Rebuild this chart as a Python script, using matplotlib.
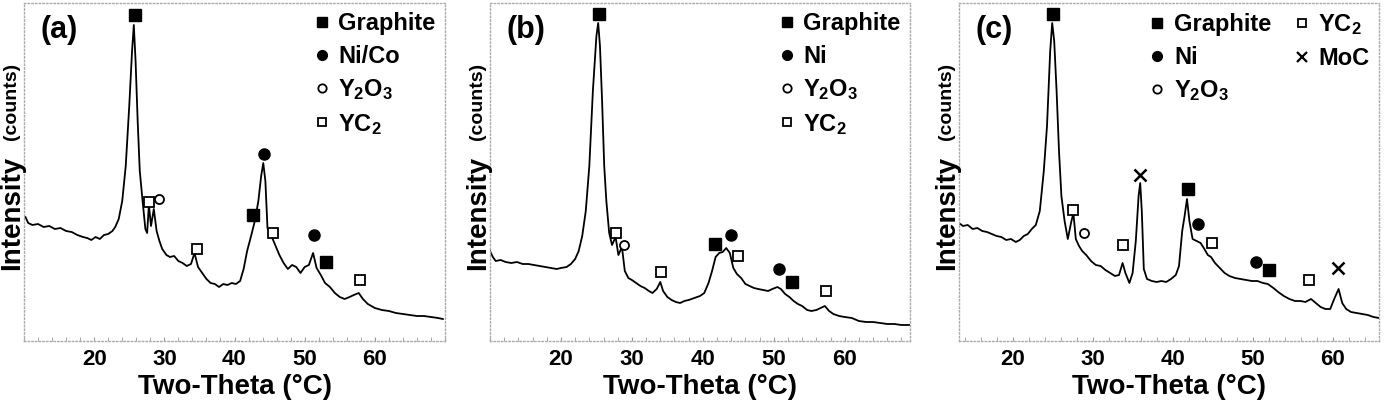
import matplotlib
matplotlib.use("Agg")
import matplotlib.pyplot as plt
from matplotlib.lines import Line2D
from matplotlib.ticker import MultipleLocator

plt.rcParams['font.family'] = ['Liberation Sans Narrow', 'Liberation Sans', 'DejaVu Sans']
plt.rcParams['font.weight'] = 'bold'
plt.rcParams['mathtext.default'] = 'regular'

# ---- data (two-theta, intensity in arbitrary counts) ----
theta_a = [10.2, 10.6, 11.2, 12.0, 12.8, 13.6, 14.4, 15.2, 16.0, 16.8, 17.6, 18.4, 19.0, 19.6,
           20.2, 20.8, 21.4, 22.0, 22.6, 23.0, 23.5, 24.0, 24.5, 25.0, 25.4, 25.65, 25.9, 26.2,
           26.5, 26.9, 27.3, 27.55, 27.8, 28.1, 28.5, 28.9, 29.3, 29.7, 30.3, 30.8, 31.4, 32.0,
           32.6, 33.2, 33.8, 34.3, 34.8, 35.4, 36.0, 36.6, 37.2, 37.8, 38.4, 39.0, 39.6, 40.2,
           40.8, 41.3, 41.8, 42.4, 42.9, 43.4, 43.8, 44.1, 44.4, 44.7, 45.2, 45.8, 46.4, 47.0,
           47.6, 48.2, 48.8, 49.4, 50.0, 50.6, 51.2, 51.7, 52.3, 52.9, 53.6, 54.3, 55.0, 55.7,
           56.4, 57.0, 57.7, 58.3, 59.0, 60.0, 61.0, 62.0, 63.0, 64.0, 65.0, 66.0, 67.0, 68.0,
           69.0, 69.7]
int_a = [124, 118, 116, 117, 114, 115, 112, 113, 110, 109, 106, 104, 103, 101,
         104, 102, 106, 107, 110, 114, 122, 140, 175, 235, 290, 316, 280, 220,
         170, 140, 112, 108, 136, 115, 132, 110, 100, 92, 86, 84, 85, 80,
         78, 75, 77, 88, 74, 68, 62, 58, 57, 54, 57, 56, 58, 57,
         60, 72, 90, 106, 120, 140, 165, 178, 160, 113, 106, 96, 86, 78,
         72, 76, 74, 68, 74, 76, 88, 73, 66, 58, 54, 48, 44, 42,
         44, 46, 48, 42, 37, 33, 31, 30, 28, 27, 26, 25, 25, 24,
         23, 22]

theta_b = [10.0, 10.4, 10.8, 11.5, 12.2, 13.0, 13.8, 14.6, 15.4, 16.2, 17.0, 17.8, 18.6, 19.4,
           20.0, 20.8, 21.4, 22.0, 22.5, 23.0, 23.5, 24.0, 24.5, 25.0, 25.25, 25.5, 25.8, 26.1,
           26.4, 26.8, 27.2, 27.7, 28.1, 28.6, 29.0, 29.5, 30.0, 30.6, 31.2, 31.8, 32.4, 32.9,
           33.5, 34.0, 34.4, 35.0, 35.6, 36.2, 36.8, 37.4, 38.0, 38.8, 39.6, 40.2, 40.8, 41.3,
           41.8, 42.3, 42.8, 43.3, 43.8, 44.3, 44.8, 45.4, 46.0, 46.6, 47.2, 47.8, 48.5, 49.2,
           49.8, 50.5, 51.0, 51.6, 52.2, 52.8, 53.4, 54.0, 54.7, 55.3, 56.0, 56.6, 57.2, 57.8,
           58.4, 59.2, 60.0, 61.0, 62.0, 63.0, 64.0, 65.0, 66.0, 67.0, 68.0, 69.2]
int_b = [90, 84, 80, 81, 79, 78, 79, 77, 77, 76, 75, 74, 73, 72,
         73, 74, 77, 82, 90, 105, 130, 175, 250, 305, 318, 295, 240, 175,
         140, 108, 96, 104, 86, 94, 70, 63, 61, 58, 55, 53, 50, 48,
         52, 59, 50, 44, 41, 39, 38, 40, 41, 43, 45, 48, 58, 70,
         84, 88, 89, 93, 88, 73, 67, 63, 57, 55, 53, 52, 51, 50,
         52, 54, 52, 47, 44, 40, 37, 35, 31, 30, 31, 33, 35, 30,
         27, 25, 24, 23, 20, 19, 19, 18, 17, 17, 16, 16]

theta_c = [13.3, 13.8, 14.4, 15.0, 15.6, 16.2, 16.8, 17.4, 18.0, 18.6, 19.2, 19.8, 20.4, 20.9,
           21.4, 21.9, 22.4, 22.9, 23.4, 23.9, 24.3, 24.7, 24.95, 25.2, 25.5, 25.8, 26.1, 26.5,
           26.9, 27.3, 27.6, 27.9, 28.3, 28.7, 29.2, 29.8, 30.4, 31.0, 31.6, 32.2, 32.8, 33.3,
           33.75, 34.1, 34.6, 35.0, 35.4, 35.75, 35.95, 36.15, 36.4, 36.8, 37.4, 38.0, 38.6, 39.2,
           39.8, 40.4, 40.8, 41.2, 41.5, 41.8, 42.1, 42.5, 43.0, 43.5, 43.9, 44.4, 44.8, 45.3,
           45.9, 46.5, 47.1, 47.8, 48.5, 49.2, 49.9, 50.6, 51.3, 51.9, 52.6, 53.2, 53.9, 54.6,
           55.3, 56.0, 56.6, 57.3, 57.9, 58.5, 59.1, 59.7, 60.2, 60.75, 61.2, 61.7, 62.3, 63.0,
           63.7, 64.4, 65.1, 65.8]
int_c = [118, 115, 116, 112, 113, 110, 109, 107, 105, 104, 101, 102, 99, 101,
         105, 107, 112, 116, 130, 170, 215, 290, 318, 300, 250, 190, 145, 120,
         102, 118, 128, 102, 95, 90, 86, 80, 76, 75, 71, 68, 65, 66,
         78, 68, 58, 68, 100, 145, 158, 130, 72, 62, 60, 59, 60, 59,
         62, 66, 75, 110, 125, 142, 120, 102, 100, 98, 93, 86, 84, 78,
         73, 68, 65, 63, 62, 61, 60, 60, 58, 57, 53, 49, 45, 42,
         40, 40, 39, 42, 38, 34, 32, 32, 42, 52, 38, 32, 29, 28,
         27, 26, 24, 23]

# peak markers (two-theta, intensity)
graphite_a = [(25.8, 326), (42.7, 126), (53.0, 79)]
nico_a = [(44.2, 187), (51.4, 106)]
y2o3_a = [(29.3, 142)]
yc2_a = [(27.8, 139), (34.6, 92), (45.5, 108), (57.9, 61)]

graphite_b = [(25.4, 327), (41.7, 97), (52.5, 59)]
ni_b = [(43.9, 106), (50.8, 72)]
y2o3_b = [(28.9, 96)]
yc2_b = [(27.7, 108), (34.1, 69), (44.9, 85), (57.3, 50)]

graphite_c = [(25.1, 327), (41.9, 152), (52.1, 71)]
ni_c = [(43.2, 117), (50.4, 79)]
y2o3_c = [(28.9, 108)]
yc2_c = [(27.6, 131), (33.75, 96), (44.9, 98), (57.1, 61)]
moc_c = [(35.96, 166), (60.7, 73)]

# marker styles per phase
styles = {
    'graphite': dict(marker='s', ms=8.5, mfc='black', mec='black'),
    'metal': dict(marker='o', ms=8, mfc='black', mec='black'),
    'y2o3': dict(marker='o', ms=6.5, mfc='white', mec='black', mew=1.3),
    'yc2': dict(marker='s', ms=6.5, mfc='white', mec='black', mew=1.3),
    'moc': dict(marker='x', ms=8, mfc='black', mec='black', mew=1.8),
}
leg_styles = {
    'graphite': dict(marker='s', ms=7, mfc='black', mec='black'),
    'metal': dict(marker='o', ms=7, mfc='black', mec='black'),
    'y2o3': dict(marker='o', ms=6, mfc='white', mec='black', mew=1.3),
    'yc2': dict(marker='s', ms=6, mfc='white', mec='black', mew=1.3),
    'moc': dict(marker='x', ms=7, mfc='black', mec='black', mew=1.6),
}


def draw_panel(ax, theta, inten, peaks, legend_items, letter, xlim, ncol=1):
    ax.plot(theta, inten, color='black', lw=1.3)
    for kind, pts in peaks:
        xs = [p[0] for p in pts]
        ys = [p[1] for p in pts]
        ax.plot(xs, ys, ls='none', clip_on=False, **styles[kind])
    ax.set_xlim(*xlim)
    ax.set_ylim(0, 338)
    ax.set_xticks([20, 30, 40, 50, 60])
    ax.xaxis.set_minor_locator(MultipleLocator(2))
    ax.set_yticks([])
    ax.tick_params(axis='x', which='both', direction='in', length=3, color='#999999',
                   labelsize=16, pad=6)
    for lab in ax.get_xticklabels():
        lab.set_fontweight('bold')
    for sp in ax.spines.values():
        sp.set_linestyle(':')
        sp.set_color('#aaaaaa')
        sp.set_linewidth(1.0)
    ax.set_xlabel('Two-Theta (°C)', fontsize=20, fontweight='bold', labelpad=3)
    ax.text(0.04, 0.92, letter, transform=ax.transAxes, fontsize=22,
            fontweight='bold', ha='left', va='center')
    ax.text(-0.028, 0.38, 'Intensity', transform=ax.transAxes, rotation=90,
            fontsize=20, fontweight='bold', ha='center', va='center')
    ax.text(-0.03, 0.71, '(counts)', transform=ax.transAxes, rotation=90,
            fontsize=14, fontweight='bold', ha='center', va='center')
    handles = [Line2D([], [], ls='none', **leg_styles[k]) for k, _ in legend_items]
    labels = [t for _, t in legend_items]
    ax.legend(handles, labels, loc='upper right', ncol=ncol, frameon=False,
              prop=dict(size=17, weight='bold'), handlelength=0.6, handletextpad=0.4,
              labelspacing=0.4, columnspacing=1.0, borderaxespad=0.0,
              bbox_to_anchor=(1.0, 1.0))


fig = plt.figure(figsize=(13.86, 4.13), dpi=100)
W, H = 1386.0, 413.0
bot = 1 - 341 / H
top = 1 - 3 / H
ax_a = fig.add_axes([24 / W, bot, (445 - 24) / W, top - bot])
ax_b = fig.add_axes([490 / W, bot, (910 - 490) / W, top - bot])
ax_c = fig.add_axes([959 / W, bot, (1379 - 959) / W, top - bot])

y2o3_lbl = 'Y$_2$O$_3$'
yc2_lbl = 'YC$_2$'

draw_panel(ax_a, theta_a, int_a,
           [('graphite', graphite_a), ('metal', nico_a), ('y2o3', y2o3_a), ('yc2', yc2_a)],
           [('graphite', 'Graphite'), ('metal', 'Ni/Co'), ('y2o3', y2o3_lbl), ('yc2', yc2_lbl)],
           '(a)', (10, 70))
draw_panel(ax_b, theta_b, int_b,
           [('graphite', graphite_b), ('metal', ni_b), ('y2o3', y2o3_b), ('yc2', yc2_b)],
           [('graphite', 'Graphite'), ('metal', 'Ni'), ('y2o3', y2o3_lbl), ('yc2', yc2_lbl)],
           '(b)', (10, 69.2))
draw_panel(ax_c, theta_c, int_c,
           [('graphite', graphite_c), ('metal', ni_c), ('y2o3', y2o3_c), ('yc2', yc2_c),
            ('moc', moc_c)],
           [('graphite', 'Graphite'), ('metal', 'Ni'), ('y2o3', y2o3_lbl), ('yc2', yc2_lbl),
            ('moc', 'MoC')],
           '(c)', (13.3, 65.8), ncol=2)

fig.savefig('out.png', dpi=100)
